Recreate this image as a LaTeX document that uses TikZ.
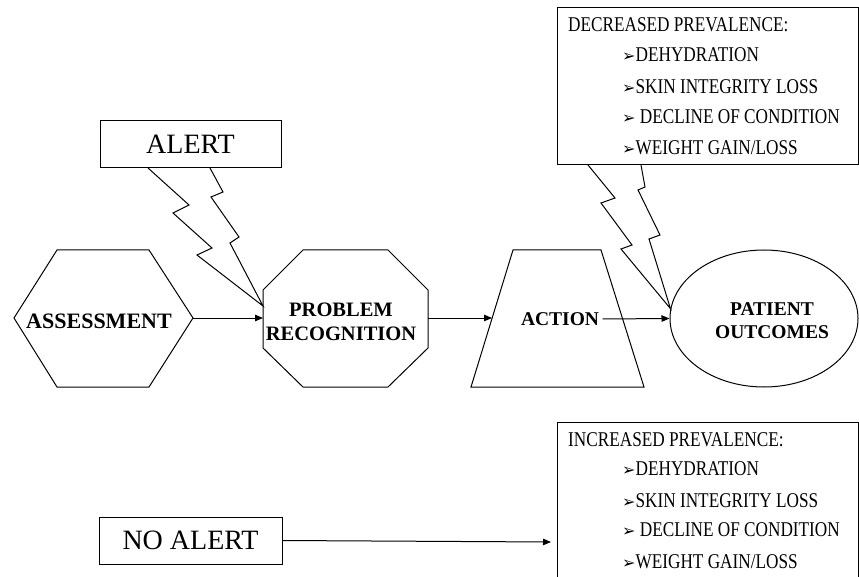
\documentclass[tikz,border=0pt]{standalone}
\usepackage{fontspec}
\setmainfont{Liberation Serif}
\newfontfamily\listfont[FakeStretch=0.82]{Liberation Serif}
\newfontfamily\symfont{DejaVu Sans}
\usetikzlibrary{arrows.meta,shapes.geometric}
\newcommand{\listsize}{\listfont\fontsize{21}{21}\selectfont}
\newcommand{\bul}{{\symfont\fontsize{16}{16}\selectfont\char"27A2}\listsize}

\tikzset{
  box/.style={draw, line width=1pt, rectangle, inner sep=0pt},
  outline/.style={line width=1pt, line join=miter},
  lbl/.style={font=\fontsize{19.5}{23}\selectfont\bfseries, align=center},
  conn/.style={line width=1pt, -{Triangle[length=8pt,width=6.5pt]}},
  item/.style={anchor=west, inner sep=0pt, font=\listsize},
}

\begin{document}
\begin{tikzpicture}[x=1pt,y=-1pt]
\useasboundingbox (0,0) rectangle (859,577);

%%% shapes

% assessment
\draw[outline] (14,318) -- (57,250) -- (149,250) -- (193,318) -- (149,387) -- (57,387) -- cycle;
\node[lbl, font=\fontsize{22}{26}\selectfont\bfseries] (assess) at (99,321) {ASSESSMENT};
\coordinate (assessE) at (193,318);

% problem recognition
\draw[outline] (263,290) -- (303,250) -- (388,250) -- (428,290) -- (428,348) -- (388,387) -- (303,387) -- (263,348) -- cycle;
\node[lbl, font=\fontsize{20.5}{24}\selectfont\bfseries] (prob) at (341,322) {PROBLEM\\RECOGNITION};
\coordinate (probW) at (263,318);
\coordinate (probE) at (428,318);
\coordinate (probTip) at (263,306);

% action
\draw[outline] (513,250) -- (601,250) -- (644,387) -- (471,387) -- cycle;
\node[lbl] (action) at (560,319) {ACTION};
\coordinate (actW) at (492,318);

% outcomes
\node[draw, ellipse, line width=1pt, minimum width=188pt, minimum height=137pt, inner sep=0pt] (outcome) at (764,318.5) {};
\node[lbl] (outtxt) at (772,321) {PATIENT\\OUTCOMES};

% alert boxes
\node[box, minimum width=181pt, minimum height=47pt, font=\fontsize{28}{28}\selectfont] (alert) at (190.5,144.5) {ALERT};
\node[box, minimum width=183pt, minimum height=47pt, font=\fontsize{28}{28}\selectfont] (noalert) at (190.5,540.5) {NO ALERT};

% decreased prevalence
\node[box, minimum width=301pt, minimum height=157pt] (decr) at (707.5,86.5) {};
\node[item] (decr0) at (568,25) {DECREASED PREVALENCE:};
\node[item] (decr1) at (622,55) {\bul DEHYDRATION};
\node[item] (decr2) at (622,87) {\bul SKIN INTEGRITY LOSS};
\node[item] (decr3) at (622,117) {\bul\ DECLINE OF CONDITION};
\node[item] (decr4) at (622,148) {\bul WEIGHT GAIN/LOSS};

% increased prevalence
\draw[outline] (557,577) -- (557,422) -- (858,422) -- (858,577);
\node[item] (incr0) at (568,440) {INCREASED PREVALENCE:};
\node[item] (incr1) at (622,469) {\bul DEHYDRATION};
\node[item] (incr2) at (622,501) {\bul SKIN INTEGRITY LOSS};
\node[item] (incr3) at (622,530) {\bul\ DECLINE OF CONDITION};
\node[item] (incr4) at (622,562) {\bul WEIGHT GAIN/LOSS};
\coordinate (incrW) at (551,542);

%%% bolts

\draw[outline] (148,168) -- (189,205) -- (173,213) -- (212,248) -- (197,255) -- (probTip)
  -- (230,243) -- (239,237) -- (211,197) -- (223,192) -- (210,168);
\draw[outline] (588,165) -- (615,198) -- (601,203) -- (632,245) -- (621,249) -- (outcome.174)
  -- (649,239) -- (660,235) -- (638,190) -- (645,187) -- (641,165);

%%% arrows

\draw[conn] (assessE) -- (probW);
\draw[conn] (probE) -- (actW);
\draw[conn] (action.east) -- (outcome.west);
\draw[conn] (noalert.east) -- (incrW);
\end{tikzpicture}
\end{document}
